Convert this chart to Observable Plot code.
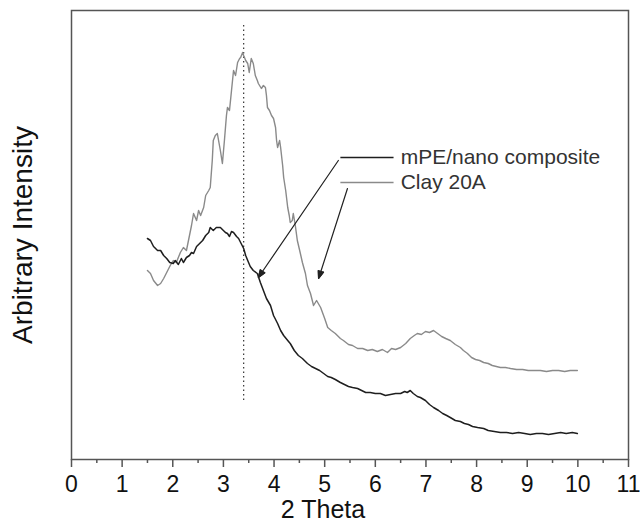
<!DOCTYPE html>
<html><head><meta charset="utf-8">
<script src="https://cdn.jsdelivr.net/npm/d3@7"></script>
<script src="https://cdn.jsdelivr.net/npm/@observablehq/plot@0.6"></script>
<style>body{margin:0;background:#fff;font-family:"Liberation Sans",Arial,sans-serif}</style>
</head><body><div id="chart"></div>
<script>
// Clay 20A (gray) – 2θ and arbitrary intensity
const clayX = [1.50,1.56,1.62,1.70,1.76,1.82,1.88,1.95,2.01,2.07,2.15,2.21,2.27,2.33,2.37,2.41,2.47,2.51,2.55,2.61,2.65,2.71,2.74,2.78,2.80,2.84,2.88,2.94,2.98,3.02,3.06,3.08,3.12,3.16,3.20,3.24,3.28,3.32,3.34,3.38,3.40,3.44,3.48,3.51,3.55,3.59,3.63,3.67,3.69,3.75,3.79,3.83,3.85,3.87,3.91,3.95,3.99,4.03,4.05,4.07,4.11,4.13,4.17,4.19,4.23,4.27,4.30,4.32,4.36,4.38,4.42,4.46,4.52,4.56,4.62,4.66,4.72,4.78,4.84,4.92,5.00,5.06,5.13,5.21,5.31,5.37,5.47,5.55,5.65,5.75,5.85,5.94,6.04,6.14,6.24,6.32,6.40,6.50,6.60,6.69,6.77,6.83,6.91,6.99,7.07,7.15,7.23,7.31,7.39,7.48,7.58,7.68,7.74,7.82,7.90,7.98,8.06,8.14,8.23,8.31,8.39,8.47,8.57,8.67,8.79,8.91,9.02,9.12,9.26,9.38,9.50,9.62,9.74,9.85,9.99];
const clayY = [189,186,179,174,176,181,187,194,199,197,207,212,209,224,234,246,239,249,244,252,264,269,272,299,319,324,326,309,296,319,344,352,349,369,389,384,397,401,402,407,404,399,396,387,401,396,384,379,376,371,374,372,364,352,349,344,341,332,319,312,319,312,294,282,269,252,244,237,239,246,234,219,206,197,186,174,166,154,159,152,141,132,129,126,121,119,115,114,111,111,109,110,108,110,107,111,110,112,116,121,124,126,125,128,127,129,126,123,121,119,115,112,109,106,102,100,99,97,96,94,93,92,92,91,90,90,89,89,89,88,89,89,88,89,89];

// mPE/nano composite (black)
const compX = [1.50,1.56,1.62,1.70,1.76,1.82,1.88,1.94,2.01,2.05,2.11,2.17,2.21,2.27,2.33,2.37,2.41,2.47,2.53,2.59,2.65,2.71,2.74,2.80,2.86,2.94,3.00,3.04,3.08,3.12,3.16,3.20,3.26,3.30,3.34,3.40,3.44,3.48,3.53,3.59,3.67,3.73,3.79,3.85,3.93,3.99,4.07,4.13,4.19,4.27,4.32,4.40,4.48,4.56,4.66,4.74,4.82,4.90,4.98,5.06,5.13,5.21,5.31,5.39,5.47,5.55,5.65,5.73,5.81,5.90,6.00,6.10,6.20,6.30,6.40,6.50,6.58,6.63,6.69,6.75,6.83,6.89,6.99,7.07,7.15,7.25,7.33,7.41,7.48,7.58,7.68,7.76,7.84,7.92,8.02,8.14,8.23,8.35,8.47,8.59,8.71,8.83,8.95,9.06,9.18,9.30,9.42,9.54,9.66,9.77,9.89,9.99];
const compY = [221,219,213,209,209,204,201,197,196,199,195,201,197,202,204,207,206,213,216,219,224,227,232,229,232,232,229,227,226,223,228,227,223,221,217,211,204,199,193,189,186,177,169,161,154,144,136,129,124,119,116,109,104,101,96,93,91,89,86,83,82,80,77,75,73,72,71,69,67,67,66,66,64,65,66,66,68,67,69,66,63,62,59,55,52,49,46,44,42,39,38,36,35,33,32,31,29,28,27,27,26,27,26,25,26,26,25,26,27,26,27,26];

// legend entries and annotations
const seriesNames = ["mPE/nano composite", "Clay 20A"];
const seriesColors = ["#1e1e1e", "#8a8a8a"];
const legendX = [5.31, 6.36];
const legendY = [302, 277];
const legendTextX = 6.50;
const arrowFromX = [5.27, 5.45];
const arrowFromY = [299, 271];
const arrowToX = [3.69, 4.88];
const arrowToY = [182, 181];
const peakX = 3.40;
const peakY = [59, 437];
const xTicks = d3.range(0, 12);
const xMinor = d3.range(0.5, 11, 1);

const clay = clayX.map((x, i) => ({x, y: clayY[i]}));
const comp = compX.map((x, i) => ({x, y: compY[i]}));
const legend = seriesNames.map((name, i) => ({name, color: seriesColors[i], x1: legendX[0], x2: legendX[1], y: legendY[i], fx: arrowFromX[i], fy: arrowFromY[i], tx: arrowToX[i], ty: arrowToY[i]}));

// fill the arrowheads drawn by Plot.arrow
function fillHeads(index, scales, values, dims, ctx, next) {
  const g = next(index, scales, values, dims, ctx);
  g.querySelectorAll("path").forEach(p => {
    const n = (p.getAttribute("d") || "").match(/-?\d*\.?\d+(?:e-?\d+)?/g);
    if (n && n.length >= 10) {
      const v = n.map(Number);
      const tri = document.createElementNS("http://www.w3.org/2000/svg", "path");
      tri.setAttribute("d", `M${v[4]},${v[5]}L${v[6]},${v[7]}L${v[8]},${v[9]}Z`);
      tri.setAttribute("fill", "#222");
      tri.setAttribute("stroke", "#222");
      p.parentNode.appendChild(tri);
    }
  });
  return g;
}

const plot = Plot.plot({
  width: 640,
  height: 530,
  marginLeft: 71,
  marginRight: 12,
  marginTop: 10,
  marginBottom: 71,
  style: {fontFamily: "'Liberation Sans', Arial, sans-serif", background: "#fff"},
  x: {domain: [0, 11]},
  y: {domain: [0, 449]},
  marks: [
    Plot.frame({stroke: "#555", strokeWidth: 1.5}),
    Plot.ruleX([peakX], {y1: peakY[0], y2: peakY[1], stroke: "#333", strokeDasharray: "1.5,3", strokeWidth: 1.2}),
    Plot.line(clay, {x: "x", y: "y", stroke: seriesColors[1], strokeWidth: 1.4}),
    Plot.line(comp, {x: "x", y: "y", stroke: seriesColors[0], strokeWidth: 1.5}),
    Plot.link(legend, {x1: "x1", x2: "x2", y1: "y", y2: "y", stroke: "color", strokeWidth: 1.5}),
    Plot.text(legend, {x: legendTextX, y: "y", text: "name", textAnchor: "start", fontSize: 21, fill: "#333"}),
    Plot.arrow(legend, {x1: "fx", y1: "fy", x2: "tx", y2: "ty", stroke: "#222", strokeWidth: 1.2, headLength: 10, headAngle: 40, render: fillHeads}),
    Plot.axisX({ticks: xTicks, tickSize: 8, tickPadding: 8, fontSize: 23, label: null, stroke: "#555", strokeWidth: 1.5, fill: "#111"}),
    Plot.axisX({ticks: xMinor, tickSize: 4, text: null, label: null, stroke: "#555", strokeWidth: 1.5}),
    Plot.axisY({ticks: [], label: null}),
    Plot.text(["2 Theta"], {frameAnchor: "bottom", dy: 58, dx: -27, fontSize: 25, fill: "#111"}),
    Plot.text(["Arbitrary Intensity"], {frameAnchor: "left", textAnchor: "middle", dx: -48, rotate: -90, fontSize: 28, fill: "#111"})
  ]
});
document.getElementById("chart").append(plot);
</script>
</body></html>
